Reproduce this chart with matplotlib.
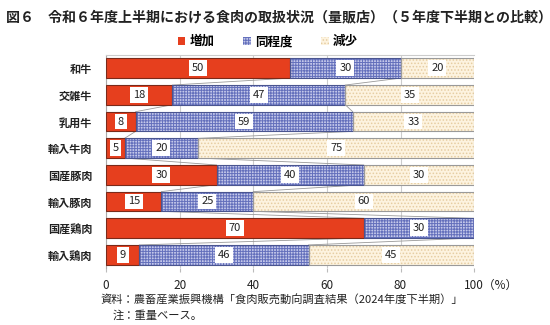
import matplotlib.pyplot as plt
import numpy as np
from matplotlib.transforms import ScaledTranslation

plt.rcParams['font.family'] = ['Noto Sans CJK JP', 'DejaVu Sans']
plt.rcParams['hatch.linewidth'] = 0.7

# Data
categories = ['和牛', '交雑牛', '乳用牛', '輸入牛肉', '国産豚肉', '輸入豚肉', '国産鶏肉', '輸入鶏肉']
increase = [50, 18, 8, 5, 30, 15, 70, 9]
same = [30, 47, 59, 20, 40, 25, 30, 46]
decrease = [20, 35, 33, 75, 30, 60, 0, 45]
series_names = ['増加', '同程度', '減少']

values = np.array([increase, same, decrease], dtype=float)
y = np.arange(len(categories))
h = 0.74

fig = plt.figure(figsize=(5.5, 3.25), dpi=100)
ax = fig.add_axes([0.193, 0.175, 0.669, 0.656])

styles = [
    dict(color='#E63F1E', hatch=None, hatch_col='#E63F1E', edge='#7a2a1a'),
    dict(color='#C4C8EA', hatch='++++++', hatch_col='#6470BC', edge='#4a5590'),
    dict(color='#FDF3DF', hatch='.....', hatch_col='#E6CDA2', edge='#9a9a9a'),
]

left = np.zeros(len(categories))
handles = []
for vals, st, name in zip(values, styles, series_names):
    bars = ax.barh(y, vals, height=h, left=left, color=st['color'],
                   hatch=st['hatch'], edgecolor=st['hatch_col'], linewidth=0, zorder=2)
    ax.barh(y, vals, height=h, left=left, color='none',
            edgecolor=st['edge'], linewidth=0.8, zorder=3)
    handles.append(bars)
    for yi, (l, v) in enumerate(zip(left, vals)):
        if v > 0:
            ax.text(l + v / 2, yi, f'{int(v)}', ha='center', va='center', fontsize=8,
                    color='#222222', zorder=5,
                    bbox=dict(boxstyle='square,pad=0.25', fc='white', ec='none'))
    left = left + vals

# series lines between bars
cum1 = values[0]
cum2 = values[0] + values[1]
for i in range(len(categories) - 1):
    for c in (cum1, cum2):
        ax.plot([c[i], c[i + 1]], [i + h / 2, i + 1 - h / 2], color='#999999',
                lw=0.6, zorder=1)

ax.set_xlim(0, 100)
ax.set_ylim(len(categories) - 0.5, -0.5)
ax.set_yticks(y)
ax.set_yticklabels(categories, fontsize=8, color='#222222', fontweight='bold')
ax.tick_params(axis='y', length=0, pad=10)
ax.tick_params(axis='x', length=3, color='#bbbbbb', pad=5)
ax.set_xticks([0, 20, 40, 60, 80, 100])
ax.set_xticklabels(['0', '20', '40', '60', '80', '100（%）'], fontsize=8.5, color='#222222')
# keep "100" centred on its tick, with the unit trailing to the right
last = ax.get_xticklabels()[-1]
last.set_horizontalalignment('left')
last.set_transform(last.get_transform() + ScaledTranslation(-7.5 / 72, 0, fig.dpi_scale_trans))
ax.grid(axis='x', color='#cccccc', lw=0.8, zorder=0)
ax.set_axisbelow(True)
for s in ['right', 'bottom']:
    ax.spines[s].set_visible(False)
ax.spines['top'].set_color('#cccccc')
ax.spines['left'].set_color('#aaaaaa')

fig.text(0.01, 0.945, '図６　令和６年度上半期における食肉の取扱状況（量販店）（５年度下半期との比較）',
         fontsize=10.1, fontweight='bold', ha='left', va='center', color='#222222')

fig.legend(handles, series_names, loc='center', bbox_to_anchor=(0.487, 0.872), ncol=3,
           frameon=False, handlelength=0.6, handleheight=0.6,
           handletextpad=0.35, columnspacing=2.3,
           prop={'size': 9, 'weight': 'bold'})

fig.text(0.182, 0.077, '資料：農畜産業振興機構「食肉販売動向調査結果（2024年度下半期）」',
         fontsize=8.1, ha='left', va='center', color='#222222')
fig.text(0.204, 0.028, '注：重量ベース。', fontsize=8.1, ha='left', va='center', color='#222222')

fig.savefig('out.png', dpi=100)
